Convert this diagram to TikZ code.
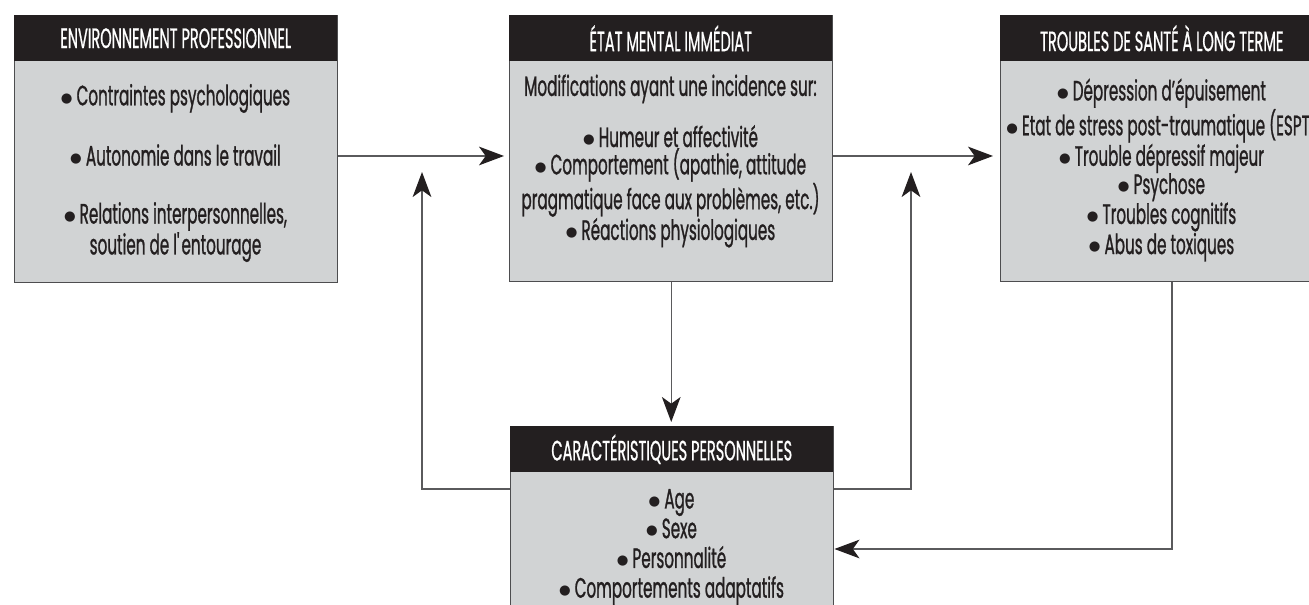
\documentclass[tikz,border=0pt]{standalone}
\usepackage{graphicx}
\usepackage{fontspec}
\setmainfont{Poppins}[FakeStretch=0.543,FakeBold=0.9]
\newfontfamily\hdfont{Poppins}[FakeStretch=0.519,FakeBold=0.7]
\newfontfamily\symfont{DejaVu Sans}
\newcommand{\bul}{\raisebox{2.4pt}{\symfont\fontsize{10}{10}\selectfont ●}}
\usetikzlibrary{arrows.meta}
\definecolor{hdfill}{HTML}{231F20}
\definecolor{bdfill}{HTML}{D1D3D4}
\definecolor{edgecol}{HTML}{4D4D4F}
\definecolor{conncol}{HTML}{5A5A5C}
\begin{document}
\begin{tikzpicture}[x=0.75pt,y=-0.75pt,
  panel/.style={draw=edgecol, fill=bdfill, line width=1.1pt, anchor=north west, inner sep=0pt, minimum width=242.25pt},
  header/.style={fill=hdfill, anchor=north west, inner sep=0pt, minimum width=242.25pt, minimum height=34.5pt},
  hdtext/.style={text=white, font=\hdfont\fontsize{21}{23}\selectfont, inner sep=0pt},
  bodytext/.style={align=center, inner sep=0pt, text=hdfill, font=\fontsize{21}{#1}\selectfont},
  link/.style={draw=conncol, line width=1pt},
  tip/.style={-{Stealth[length=18.75pt,width=14pt,inset=5pt,color=hdfill]}}
]
\useasboundingbox (0,0) rectangle (1309,605);
\clip (0,0) rectangle (1309,605);

% Box 1
\node[panel, minimum height=200.25pt] (env) at (14,15) {};
\node[header] (envH) at (14,15) {};
\node[hdtext] (envT) at (envH.center) {ENVIRONNEMENT PROFESSIONNEL};
\node[bodytext=21pt] (envB) at (175.5,173) {\bul\ Contraintes psychologiques\\[22.5pt]
\bul\ Autonomie dans le travail\\[22.5pt]
\bul\ Relations interpersonnelles,\\
soutien de l\textquotesingle entourage};

% Box 2
\node[panel, minimum height=199.5pt] (etat) at (509,15) {};
\node[header] (etatH) at (509,15) {};
\node[hdtext] (etatT) at (etatH.center) {ÉTAT MENTAL IMMÉDIAT};
\node[bodytext=20.5pt] (etatB) at (670.5,161) {Modifications ayant une incidence sur:\\[15.5pt]
\bul\ Humeur et affectivité\\
\bul\ Comportement (apathie, attitude\\
pragmatique face aux problèmes, etc.)\\
\bul\ Réactions physiologiques};

% Box 3
\node[panel, minimum height=199.5pt] (sante) at (1000,15) {};
\node[header] (santeH) at (1000,15) {};
\node[hdtext] (santeT) at (santeH.center) {TROUBLES DE SANTÉ À LONG TERME};
\node[bodytext=21.15pt] (santeB) at (1161.5,170) {\bul\ Dépression d’épuisement\\
\bul\ Etat de stress post-traumatique (ESPT)\\
\bul\ Trouble dépressif majeur\\
\bul\ Psychose\\
\bul\ Troubles cognitifs\\
\bul\ Abus de toxiques};

% Box 4
\node[panel, minimum height=145.5pt] (car) at (510,426) {};
\node[header] (carH) at (510,426) {};
\node[hdtext] (carT) at (carH.center) {CARACTÉRISTIQUES PERSONNELLES};
\node[bodytext=22.3pt] (carB) at (671.5,547) {\bul\ Age\\
\bul\ Sexe\\
\bul\ Personnalité\\
\bul\ Comportements adaptatifs};

% connectors
\coordinate (row) at (0,156);
\coordinate (ret) at (0,489);
\coordinate (upL) at (422,172);
\coordinate (upR) at (911,172);
\coordinate (bend) at (1172,549);

\draw[link, tip, shorten >=3.75pt] (env.east |- row) -- (etat.west |- row);
\draw[link, tip, shorten >=5.25pt] (etat.east |- row) -- (sante.west |- row);
\draw[link, tip, shorten >=3pt] (etat.south) -- (etat.south |- car.north);
\draw[link, tip] (car.west |- ret) -| (upL);
\draw[link, tip] (car.east |- ret) -| (upR);
\draw[link, tip] (sante.south -| bend) |- (car.east |- bend);
\end{tikzpicture}
\end{document}
